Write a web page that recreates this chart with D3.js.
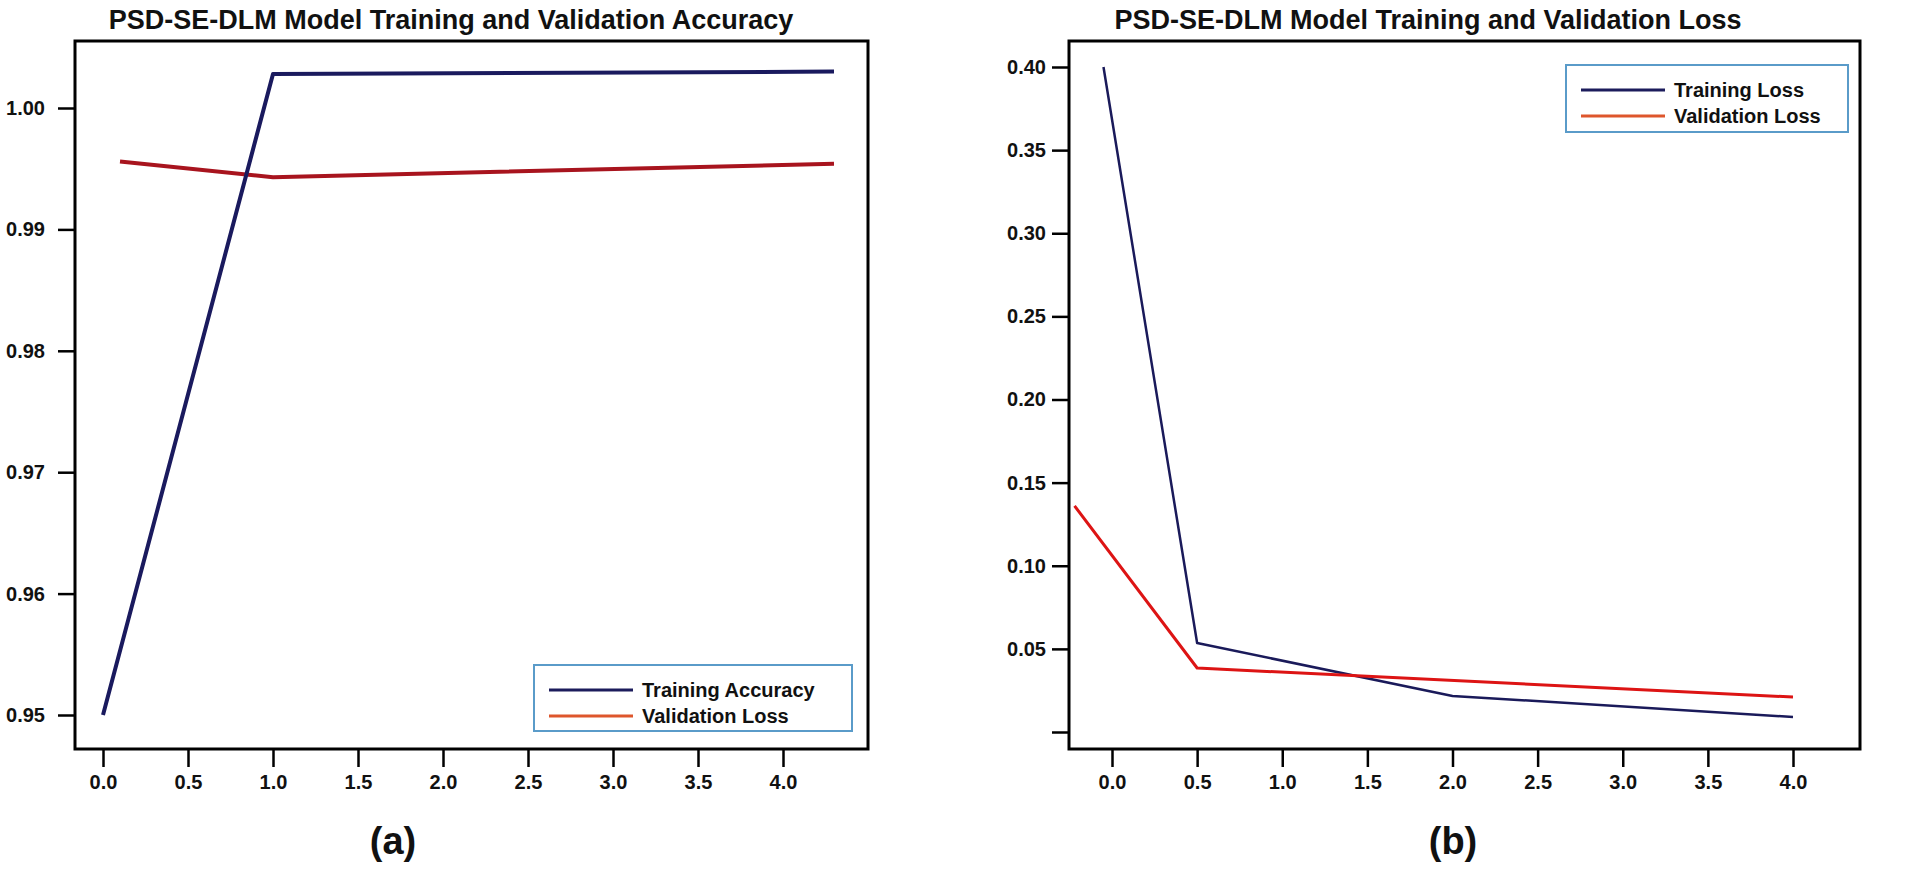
<!DOCTYPE html>
<html>
<head>
<meta charset="utf-8">
<script src="https://cdn.jsdelivr.net/npm/d3@7"></script>
<style>
  body { margin: 0; background: #fff; }
  svg text { font-family: "Liberation Sans", Arial, sans-serif; font-weight: bold; fill: #111; }
</style>
</head>
<body>
<div id="chart"></div>
<script>
// values
const xTicks = [0, 0.5, 1, 1.5, 2, 2.5, 3, 3.5, 4];

const accTrainX = [0.0, 1.0, 4.3];
const accTrainY = [0.950, 1.0028, 1.0030];
const accValX = [0.1, 1.0, 4.3];
const accValY = [0.9956, 0.9943, 0.9954];
const accTicks = [0.95, 0.96, 0.97, 0.98, 0.99, 1.00];

const lossTrainX = [-0.05, 0.5, 2.0, 4.0];
const lossTrainY = [0.400, 0.0535, 0.0217, 0.009];
const lossValX = [-0.22, 0.5, 4.0];
const lossValY = [0.136, 0.0385, 0.021];
const lossTicks = [0.40, 0.35, 0.30, 0.25, 0.20, 0.15, 0.10, 0.05, 0.00];

const titles = ["PSD-SE-DLM Model Training and Validation Accuracy",
    "PSD-SE-DLM Model Training and Validation Loss"];
const accLegend = ["Training Accuracy", "Validation Loss"];
const lossLegend = ["Training Loss", "Validation Loss"];
const tags = ["(a)", "(b)"];

const width = 1905, height = 869;

const svg = d3.select("#chart")
    .append("svg")
    .attr("width", width)
    .attr("height", height);

const zip = (xs, ys) => xs.map((x, i) => [x, ys[i]]);

function panel(opt) {
    const g = svg.append("g");
    const x = d3.scaleLinear().domain([0, 4]).range(opt.xRange);
    const y = d3.scaleLinear().domain(opt.yDomain).range(opt.yRange);

    // title
    g.append("text")
        .attr("x", opt.titleX)
        .attr("y", 29)
        .attr("text-anchor", "middle")
        .style("font-size", "27px")
        .text(opt.title);

    // lines
    const line = d3.line().x(d => x(d[0])).y(d => y(d[1]));
    opt.series.forEach(s => {
        g.append("path")
            .datum(zip(s.x, s.y))
            .attr("d", line)
            .attr("fill", "none")
            .attr("stroke", s.color)
            .attr("stroke-width", s.w)
            .attr("stroke-linejoin", "round");
    });

    // frame
    g.append("rect")
        .attr("x", opt.frame[0])
        .attr("y", 41)
        .attr("width", opt.frame[1] - opt.frame[0])
        .attr("height", 749 - 41)
        .attr("fill", "none")
        .attr("stroke", "#000")
        .attr("stroke-width", 3);

    // x axis
    const xAxis = g.append("g")
        .attr("transform", `translate(0, 749)`)
        .call(d3.axisBottom(x).tickValues(xTicks).tickSize(18).tickPadding(8)
            .tickFormat(d3.format(".1f")));
    // y axis
    const yAxis = g.append("g")
        .attr("transform", `translate(${opt.frame[0]}, 0)`)
        .call(d3.axisLeft(y).tickValues(opt.yTicks).tickSize(17).tickPadding(opt.yPad)
            .tickFormat(d => d === 0 ? "" : d3.format(".2f")(d)));
    [xAxis, yAxis].forEach(a => {
        a.select(".domain").remove();
        a.selectAll(".tick line").attr("stroke", "#000").attr("stroke-width", 2.5);
        a.selectAll(".tick text")
            .style("font-size", "20px")
            .style("font-family", "'Liberation Sans', Arial, sans-serif")
            .attr("fill", "#111");
    });

    // legend
    const lg = g.append("g").attr("transform", `translate(${opt.legend[0]}, ${opt.legend[1]})`);
    lg.append("rect")
        .attr("width", opt.legend[2])
        .attr("height", opt.legend[3])
        .attr("fill", "#fff")
        .attr("stroke", "#5a9bc9")
        .attr("stroke-width", 2);
    opt.legendText.forEach((t, i) => {
        lg.append("line")
            .attr("x1", 15).attr("x2", 99)
            .attr("y1", 25 + i * 26).attr("y2", 25 + i * 26)
            .attr("stroke", ["#1c1c5c", "#de562c"][i])
            .attr("stroke-width", 3);
        lg.append("text")
            .attr("x", 108)
            .attr("y", 32 + i * 26)
            .style("font-size", "20px")
            .text(t);
    });

    // panel tag
    g.append("text")
        .attr("x", opt.tagX)
        .attr("y", 854)
        .attr("text-anchor", "middle")
        .style("font-size", "38px")
        .text(opt.tag);
}

panel({
    title: titles[0], titleX: 451, tag: tags[0], tagX: 393,
    frame: [75, 868],
    xRange: [103, 783],
    yDomain: [0.95, 1.00], yRange: [715, 108], yTicks: accTicks, yPad: 13,
    series: [
        { x: accValX, y: accValY, color: "#a8141e", w: 4 },
        { x: accTrainX, y: accTrainY, color: "#1a1a5e", w: 4 }
    ],
    legend: [534, 665, 318, 66], legendText: accLegend
});

panel({
    title: titles[1], titleX: 1428, tag: tags[1], tagX: 1453,
    frame: [1069, 1860],
    xRange: [1112, 1793],
    yDomain: [0, 0.40], yRange: [732, 67], yTicks: lossTicks, yPad: 6,
    series: [
        { x: lossTrainX, y: lossTrainY, color: "#1a1a5a", w: 2.5 },
        { x: lossValX, y: lossValY, color: "#dd1414", w: 3 }
    ],
    legend: [1566, 65, 282, 67], legendText: lossLegend
});
</script>
</body>
</html>
